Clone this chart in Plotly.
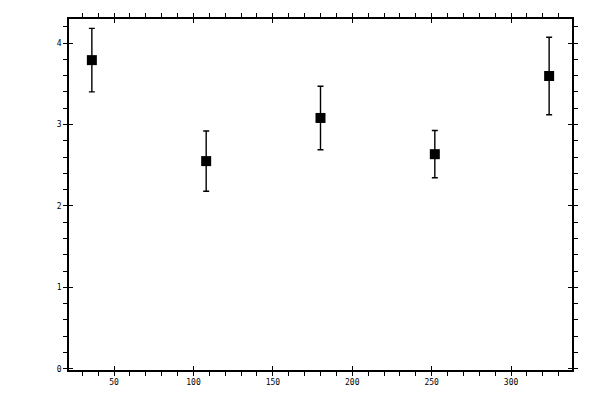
import plotly.graph_objects as go

# ── Data ─────────────────────────────────────────────────────────────────────
angles = [36, 108, 180, 252, 324]
values = [3.79, 2.55, 3.08, 2.635, 3.595]
errors = [0.39, 0.37, 0.39, 0.29, 0.475]

X_RANGE = [21.6, 338.4]
Y_RANGE = [-0.015, 4.295]
FONT = dict(family="DejaVu Sans Mono", size=8, color="black")

fig = go.Figure()

fig.add_trace(go.Scatter(
    x=angles, y=values, mode="markers",
    marker=dict(symbol="square", size=10, color="black"),
    error_y=dict(type="data", array=errors, visible=True,
                 color="black", thickness=1.4, width=3),
    showlegend=False, hoverinfo="x+y",
))

# invisible trace so the overlay axes (inside major ticks) get drawn
fig.add_trace(go.Scatter(
    x=angles, y=values, mode="markers", xaxis="x2", yaxis="y2",
    marker=dict(opacity=0), showlegend=False, hoverinfo="skip",
))

axis_common = dict(showgrid=False, zeroline=False, showline=True,
                   linecolor="black", linewidth=1.5, mirror="allticks",
                   ticks="outside", ticklen=4, tickwidth=1.3, tickcolor="black",
                   tickfont=FONT, automargin=False)

overlay_common = dict(ticks="inside", ticklen=4, tickwidth=1.3, tickcolor="black",
                      mirror="allticks", showline=False, showgrid=False,
                      zeroline=False, showticklabels=False, automargin=False)

fig.update_layout(
    width=600, height=400, autosize=False,
    paper_bgcolor="white", plot_bgcolor="white",
    margin=dict(l=69, r=28, t=19, b=30, pad=0),
    xaxis=dict(range=X_RANGE, tick0=0, dtick=50,
               minor=dict(dtick=10, ticks="outside", ticklen=4,
                          tickwidth=1.1, tickcolor="black"),
               **axis_common),
    yaxis=dict(range=Y_RANGE, tick0=0, dtick=1,
               minor=dict(dtick=0.2, ticks="outside", ticklen=4,
                          tickwidth=1.1, tickcolor="black"),
               **axis_common),
    xaxis2=dict(overlaying="x", range=X_RANGE, tick0=0, dtick=50, **overlay_common),
    yaxis2=dict(overlaying="y", range=Y_RANGE, tick0=0, dtick=1, **overlay_common),
)

# drop the default 8px body margin so the figure sits at the window corner
fig.write_html("out.html",
               config={"displayModeBar": False},
               post_script="document.body.style.margin='0';")
